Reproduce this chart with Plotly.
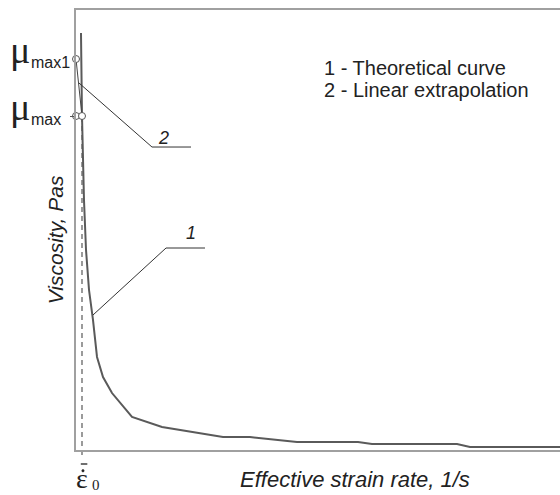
import plotly.graph_objects as go

# Theoretical viscosity curve (arbitrary units)
strain_rate = [1.03, 1.24, 1.65, 2.07, 2.69, 3.51, 4.34, 5.58, 7.44, 9.09, 11.57, 17.77,
               30.37, 35.95, 42.15, 45.66, 58.26, 61.16, 78.72, 81.4, 100.0]
viscosity = [94.77, 75.91, 56.82, 45.45, 36.36, 29.55, 21.14, 16.59, 12.95, 10.68, 7.5, 5.23,
             2.95, 2.95, 2.27, 1.82, 1.82, 1.36, 1.36, 0.68, 0.68]

# Linear extrapolation
extrap_x = [0.0, 1.24]
extrap_y = [88.86, 75.91]

# Marked points
point_x = [0.0, 0.0, 1.24]
point_y = [88.86, 75.91, 75.91]

eps0 = 1.24
mu_max1 = 88.86
mu_max = 75.91

legend_lines = ["1 - Theoretical curve", "2 - Linear extrapolation"]
x_title = "Effective strain rate, 1/s"
y_title = "Viscosity, Pas"

# leader lines
lead1_x = [3.51, 18.60, 26.65]
lead1_y = [30.68, 45.91, 45.91]
lead2_x = [0.62, 15.70, 23.76]
lead2_y = [83.41, 68.86, 68.86]

SANS = "Liberation Sans, Arial"
SERIF = "Liberation Serif, Times New Roman"
INK = "#222222"

fig = go.Figure()
fig.add_trace(go.Scatter(x=strain_rate, y=viscosity, mode="lines",
                         line=dict(color="#5a5a5a", width=2), hoverinfo="skip"))
fig.add_trace(go.Scatter(x=extrap_x, y=extrap_y, mode="lines",
                         line=dict(color="#444444", width=1), hoverinfo="skip"))
fig.add_trace(go.Scatter(x=lead1_x, y=lead1_y, mode="lines",
                         line=dict(color="#333333", width=1), hoverinfo="skip"))
fig.add_trace(go.Scatter(x=lead2_x, y=lead2_y, mode="lines",
                         line=dict(color="#333333", width=1), hoverinfo="skip"))
fig.add_trace(go.Scatter(x=point_x, y=point_y, mode="markers", cliponaxis=False,
                         marker=dict(size=7, color="white", line=dict(color="#555555", width=1)),
                         hoverinfo="skip"))

# dashed vertical line at eps0
fig.add_shape(type="line", xref="x", yref="paper", x0=eps0, x1=eps0,
              y0=-0.0114, y1=(mu_max / 100.0), line=dict(color="#666666", width=1.3, dash="5px,4px"),
              layer="below")

ann = []
for line, yp in zip(legend_lines, [0.868, 0.818]):
    ann.append(dict(text=line, xref="paper", yref="paper", x=0.508, y=yp,
                    xanchor="left", yanchor="middle", align="left", showarrow=False,
                    font=dict(family=SANS, size=20, color=INK)))
ann.append(dict(text="<i>" + x_title + "</i>", xref="paper", yref="paper", x=0.576, y=-0.068,
                xanchor="center", yanchor="middle", showarrow=False,
                font=dict(family=SANS, size=22, color=INK)))
ann.append(dict(text="<i>" + y_title + "</i>", xref="paper", yref="paper", x=-0.043, y=0.477,
                textangle=-90, xanchor="center", yanchor="middle", showarrow=False,
                font=dict(family=SANS, size=21, color=INK)))
ann.append(dict(text="<i>1</i>", xref="x", yref="y", x=23.76, y=49.3, showarrow=False,
                font=dict(family=SANS, size=18, color=INK)))
ann.append(dict(text="<i>2</i>", xref="x", yref="y", x=18.18, y=70.9, showarrow=False,
                font=dict(family=SANS, size=18, color=INK)))
# mu labels
for yv, sub, xs in [(mu_max1, "max1", 29), (mu_max, "max", 29)]:
    ann.append(dict(text="\u03bc", xref="paper", yref="y", x=(20 - 76) / 484.0, y=yv,
                    xanchor="center", yanchor="middle", yshift=9, showarrow=False,
                    font=dict(family=SERIF, size=38, color=INK)))
    ann.append(dict(text=sub, xref="paper", yref="y", x=(xs - 76) / 484.0, y=yv,
                    xanchor="left", yanchor="middle", yshift=-3, showarrow=False,
                    font=dict(family=SANS, size=16, color=INK)))
# eps0 label: epsilon, dot above it and bar (short line)
ann.append(dict(text="\u03b5", xref="x", yref="paper", x=eps0, xshift=0, y=(450 - 478) / 440.0,
                xanchor="center", yanchor="middle", showarrow=False,
                font=dict(family=SERIF, size=28, color=INK)))
ann.append(dict(text="0", xref="x", yref="paper", x=eps0, xshift=14, y=(450 - 485) / 440.0,
                xanchor="center", yanchor="middle", showarrow=False,
                font=dict(family=SERIF, size=15, color=INK)))
fig.add_shape(type="line", xref="x", yref="paper", x0=eps0 - 0.25, x1=eps0 + 1.1,
              y0=(450 - 464) / 440.0, y1=(450 - 464) / 440.0, line=dict(color=INK, width=1.3))
fig.add_shape(type="circle", xref="x", yref="paper", x0=eps0 - 0.05, x1=eps0 + 0.45,
              y0=(450 - 472) / 440.0, y1=(450 - 469.5) / 440.0,
              line=dict(color=INK, width=0.5), fillcolor=INK)

fig.update_layout(
    width=560, height=495,
    margin=dict(l=76, r=0, t=10, b=45),
    paper_bgcolor="white", plot_bgcolor="white",
    showlegend=False,
    annotations=ann,
    xaxis=dict(range=[0, 100], showgrid=False, zeroline=False, showticklabels=False,
               showline=True, linecolor="#a0a0a0", linewidth=2, mirror=True, ticks=""),
    yaxis=dict(range=[0, 100], showgrid=False, zeroline=False, showticklabels=False,
               showline=True, linecolor="#a0a0a0", linewidth=2, ticks="outside",
               tickvals=[mu_max], ticklen=4, tickcolor="#555555", tickwidth=1),
)
fig.write_html("out.html", config={"displayModeBar": False},
               post_script="document.body.style.margin='0';document.body.style.overflow='hidden';")
